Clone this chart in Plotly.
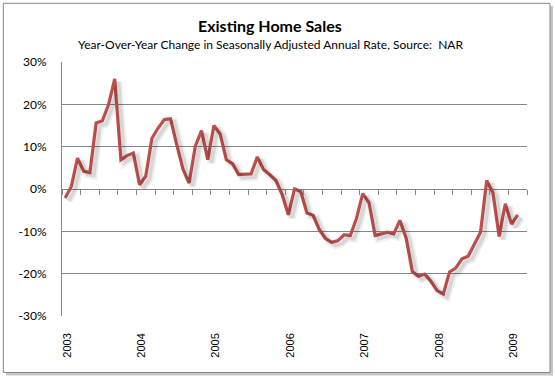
import plotly.graph_objects as go

# Monthly YoY change (%), Jan 2003 .. Feb 2009
months = [f"{y}-{m:02d}" for y in range(2003, 2010) for m in range(1, 13)][:74]
yoy_change = [
    -2.1, 0.6, 7.3, 4.2, 3.9, 15.6, 16.1, 19.9, 26.0, 6.9, 7.9, 8.5,      # 2003
    1.0, 3.0, 12.0, 14.4, 16.4, 16.6, 10.5, 4.7, 1.4, 10.1, 13.8, 6.9,     # 2004
    15.0, 13.0, 6.9, 6.0, 3.4, 3.5, 3.6, 7.6, 4.6, 3.4, 2.0, -1.3,         # 2005
    -6.1, 0.0, -0.6, -5.7, -6.2, -9.6, -11.7, -12.6, -12.2, -10.8, -11.0, -6.9,  # 2006
    -1.1, -3.2, -11.0, -10.6, -10.2, -10.6, -7.4, -11.6, -19.5, -20.6, -20.1, -21.8,  # 2007
    -24.0, -24.8, -19.6, -18.7, -16.5, -15.9, -13.2, -10.2, 2.0, -0.9, -11.2, -3.5,   # 2008
    -8.3, -6.1,                                                             # 2009
]
year_labels = ["2003", "2004", "2005", "2006", "2007", "2008", "2009"]
y_ticks = [-0.3, -0.2, -0.1, 0.0, 0.1, 0.2, 0.3]
y_tick_text = ["-30%", "-20%", "-10%", "0%", "10%", "20%", "30%"]

x_idx = list(range(len(yoy_change)))
y_frac = [v / 100 for v in yoy_change]
n_cat = 75

GRID = "#868686"
LINE = "#C0504D"
FONT = "Lato"

fig = go.Figure()

# soft shadow of the line (same data, drawn on slightly shifted hidden axes)
fig.add_trace(go.Scatter(x=x_idx, y=y_frac, mode="lines", xaxis="x3", yaxis="y3",
                         line=dict(color="rgba(0,0,0,0.06)", width=8),
                         hoverinfo="skip", showlegend=False))
fig.add_trace(go.Scatter(x=x_idx, y=y_frac, mode="lines", xaxis="x3", yaxis="y3",
                         line=dict(color="rgba(0,0,0,0.10)", width=4),
                         hoverinfo="skip", showlegend=False))
fig.add_trace(go.Scatter(x=x_idx, y=y_frac, mode="lines",
                         line=dict(color=LINE, width=3.2),
                         showlegend=False))

dx = 0.6
dy = 0.007
fig.update_layout(
    width=555, height=378,
    margin=dict(l=62, r=28, t=62, b=62),
    paper_bgcolor="white", plot_bgcolor="white",
    font=dict(family=FONT, size=12, color="black"),
    xaxis=dict(range=[-0.5, n_cat - 0.5], tickvals=[12 * i for i in range(len(year_labels))],
               ticktext=year_labels, tickangle=-90, showgrid=False, zeroline=False,
               showline=False, ticks="", ticklabelstandoff=14, ticklabelshift=2,
               tickfont=dict(family="Liberation Sans", size=11, color="black")),
    xaxis2=dict(overlaying="x", anchor="free", position=0.5, side="bottom",
                range=[-0.5, n_cat - 0.5], tickvals=[-0.5 + 3 * k for k in range(26)],
                ticks="outside", ticklen=5, tickcolor=GRID, tickwidth=1,
                showticklabels=False, showgrid=False, zeroline=False, showline=False),
    xaxis3=dict(overlaying="x", range=[-0.5 - dx, n_cat - 0.5 - dx], visible=False),
    yaxis=dict(range=[-0.3, 0.3], tickvals=y_ticks, ticktext=y_tick_text,
               showgrid=True, gridcolor=GRID, gridwidth=1,
               zeroline=True, zerolinecolor=GRID, zerolinewidth=1,
               showline=True, linecolor=GRID, linewidth=1, ticks="",
               ticklabelstandoff=12, tickfont=dict(family=FONT, size=12, color="black")),
    yaxis3=dict(overlaying="y", range=[-0.3 + dy, 0.3 + dy], visible=False),
)

# dummy trace to activate xaxis2
fig.add_trace(go.Scatter(x=[None], y=[None], xaxis="x2", showlegend=False, hoverinfo="skip"))

# chart frame with shadow
px_w = 465.0
px_h = 254.0
def fx(p): return (p - 62) / px_w
def fy(p): return (316 - p) / px_h
fig.add_shape(type="rect", xref="paper", yref="paper", layer="below",
              x0=fx(6), x1=fx(553), y0=fy(375.5), y1=fy(6),
              line=dict(width=0), fillcolor="rgba(0,0,0,0.22)")
fig.add_shape(type="rect", xref="paper", yref="paper", layer="below",
              x0=fx(3.3), x1=fx(550), y0=fy(372.5), y1=fy(3.3),
              line=dict(color=GRID, width=1), fillcolor="white")

fig.add_annotation(text="<b>Existing Home Sales</b>", xref="paper", yref="paper",
                   x=fx(270), y=fy(25), showarrow=False, xanchor="center", yanchor="middle",
                   font=dict(family=FONT, size=16, color="black"))
fig.add_annotation(text="Year-Over-Year Change in Seasonally Adjusted Annual Rate, Source:\u00a0 NAR",
                   xref="paper", yref="paper", x=fx(270), y=fy(45), showarrow=False,
                   xanchor="center", yanchor="middle",
                   font=dict(family=FONT, size=12, color="black"))

fig.write_html("out.html", config={"displayModeBar": False},
               post_script="document.body.style.margin='0';")
